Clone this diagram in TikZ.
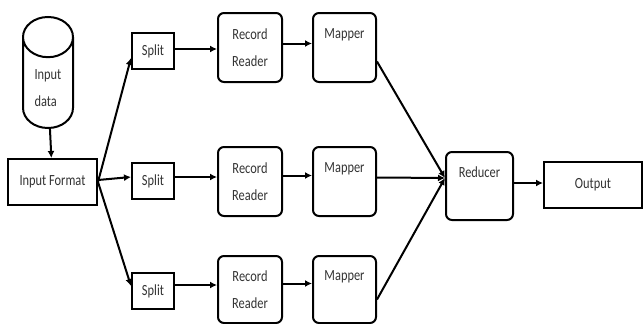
\documentclass[tikz,border=0pt]{standalone}
\usepackage{fontspec}
\setmainfont{Carlito}[FakeStretch=0.8]
\usetikzlibrary{shapes,arrows,arrows.meta,positioning}
\tikzstyle{block} = [rectangle, draw, line width=2pt,
    text centered, text=black!80]
\tikzstyle{rblock} = [rectangle, draw, line width=2pt, rounded corners=6pt,
    align=center, text=black!80]
\tikzstyle{store} = [cylinder, shape border rotate=90, draw, line width=2pt,
    aspect=1.2, minimum width=50pt, minimum height=111pt, align=left, text=black!80]
\tikzstyle{line} = [draw, line width=2pt, -{Latex[length=7pt,width=7pt]}]
\tikzstyle{every node}=[font=\fontsize{15.5}{27}\selectfont]

\begin{document}
\begin{tikzpicture}[x=1pt, y=-1pt]
	\useasboundingbox (0,0) rectangle (643,324);
	\begin{scope}
	\clip (0,0) rectangle (643,324);
	% Place nodes
	\node [store, anchor=shape center] (data) at (48,72.5) {Input\\data};
	\node [block, minimum width=89pt, minimum height=46pt] (fmt) at (52.5,182) {Input Format};
	
	\node [block, minimum width=42pt, minimum height=36pt] (split1) at (153,51) {Split};
	\node [block, minimum width=42pt, minimum height=36pt] (split2) at (153,181) {Split};
	\node [block, minimum width=42pt, minimum height=36pt] (split3) at (153,291) {Split};
	
	\node [rblock, minimum width=64pt, minimum height=69pt] (rr1) at (250,47.5) {Record\\Reader};
	\node [rblock, minimum width=64pt, minimum height=69pt] (rr2) at (250,181.5) {Record\\Reader};
	\node [rblock, minimum width=64pt, minimum height=67pt] (rr3) at (250,289.5) {Record\\Reader};
	
	\node [rblock, minimum width=63pt, minimum height=69pt] (map1) at (344.5,47.5) {Mapper\\\mbox{}};
	\node [rblock, minimum width=63pt, minimum height=69pt] (map2) at (344.5,181.5) {Mapper\\\mbox{}};
	\node [rblock, minimum width=63pt, minimum height=67pt] (map3) at (344.5,289.5) {Mapper\\\mbox{}};
	
	\node [rblock, minimum width=67pt, minimum height=68pt] (red) at (479.5,186) {Reducer\\\mbox{}};
	\node [block, minimum width=98pt, minimum height=46pt] (out) at (593,185) {Output};
	
	% Draw edges
	\path [line] (data) -- (fmt);
	\path [line] (fmt.east) -- ([yshift=-7pt]split1.west);
	\path [line] ([yshift=2pt]fmt.east) -- ([yshift=4pt]split2.west);
	\path [line] (fmt.east) -- ([yshift=5pt]split3.west);
	
	\path [line] ([yshift=2pt]split1.east) -- ([yshift=2pt]split1.east -| rr1.west);
	\path [line] ([yshift=4pt]split2.east) -- ([yshift=4pt]split2.east -| rr2.west);
	\path [line] ([yshift=6pt]split3.east) -- ([yshift=6pt]split3.east -| rr3.west);
	
	\path [line] ([yshift=4pt]rr1.east) -- ([yshift=4pt]map1.west);
	\path [line] ([yshift=6pt]rr2.east) -- ([yshift=6pt]map2.west);
	\path [line] ([yshift=6pt]rr3.east) -- ([yshift=6pt]map3.west);
	
	\coordinate (join) at ([yshift=8pt]red.west);
	\path [line] ([yshift=-14pt]map1.east) -- (join);
	\path [line] ([yshift=4pt]map2.east) -- (join);
	\path [line] ([yshift=-10pt]map3.east) -- (join);
	
	\path [line] ([yshift=3pt]red.east) -- ([yshift=3pt]red.east -| out.west);
	\end{scope}
\end{tikzpicture}
\end{document}
